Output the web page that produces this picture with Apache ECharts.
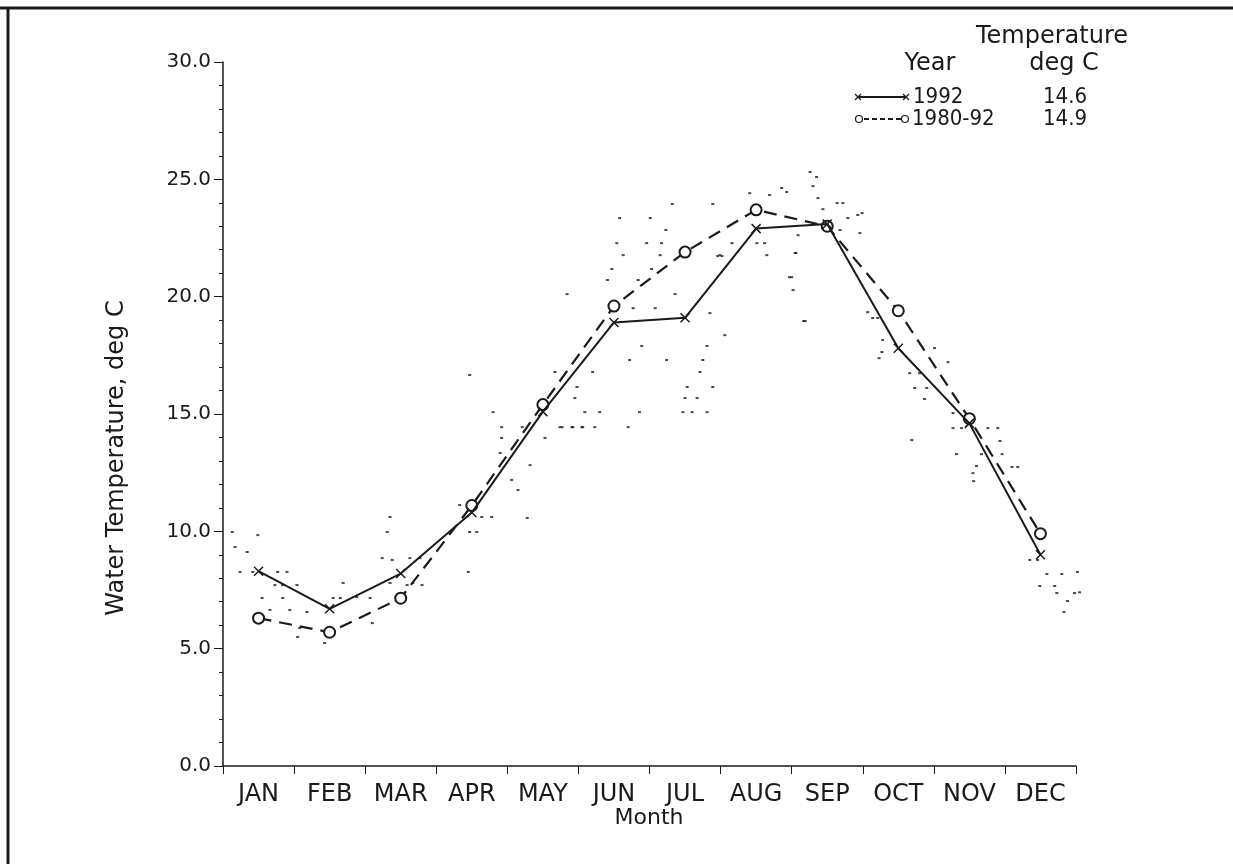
<!DOCTYPE html>
<html><head><meta charset="utf-8">
<script src="https://cdn.jsdelivr.net/npm/echarts@6/dist/echarts.min.js"></script>
<style>html,body{margin:0;padding:0;background:#fff}#c{width:1233px;height:864px}</style>
</head><body><div id="c"></div>
<script>
const months = ['JAN','FEB','MAR','APR','MAY','JUN','JUL','AUG','SEP','OCT','NOV','DEC'];
const yTicks = [0, 5, 10, 15, 20, 25, 30];
const temp1992 = [8.3, 6.7, 8.2, 10.8, 15.1, 18.9, 19.1, 22.9, 23.1, 17.8, 14.6, 9.0];
const tempAvg = [6.3, 5.7, 7.15, 11.1, 15.4, 19.6, 21.9, 23.7, 23.0, 19.4, 14.8, 9.9];
const legendNames = ['1992', '1980-92'];
const legendMeans = ['14.6', '14.9'];
const dotMonth = [0.24,0.42,0.77,0.90,0.73,0.84,1.04,0.55,0.84,0.66,0.94,1.18,1.08,1.05,1.43,1.69,1.88,2.07,1.55,1.65,2.10,2.35,2.59,2.67,2.80,3.45,
 0.13,0.49,0.17,0.34,2.35,2.31,2.24,2.38,2.63,2.77,3.47,3.33,3.47,3.57,3.64,3.78,4.28,4.15,4.06,3.92,3.92,4.21,3.80,4.74,4.91,5.06,5.23,4.67,4.98,4.95,4.32,4.53,3.90,
 6.32,6.89,6.01,5.58,6.23,5.54,5.96,6.17,5.63,6.15,6.99,5.47,6.03,5.41,5.84,4.84,6.36,5.77,6.08,6.85,7.06,5.89,6.81,5.72,6.24,6.75,6.71,6.53,6.89,6.50,6.67,
 5.09,5.30,5.86,6.47,6.60,6.81,4.77,4.92,5.05,5.70,5.20,7.41,7.69,7.86,7.93,8.30,7.97,8.02,8.05,8.19,7.62,7.51,7.65,8.99,8.79,8.64,8.72,8.68,
 8.26,8.35,8.37,8.44,8.93,8.96,8.09,8.06,8.00,8.17,7.16,6.96,7.02,
 9.07,9.14,9.21,9.28,9.27,9.23,10.01,10.20,9.66,9.80,9.73,9.90,9.87,9.69,10.27,10.27,10.39,10.76,10.90,10.93,10.96,10.32,10.67,10.60,10.56,10.55,11.10,11.18,
 11.35,11.46,11.59,11.80,11.49,11.70,11.73,11.98,11.88,11.83,12.02,12.05];
const dotTemp = [8.27,8.27,8.27,8.27,7.71,7.71,7.71,7.16,7.16,6.65,6.65,6.56,5.88,5.50,5.24,7.80,7.20,7.16,7.16,7.16,6.09,7.80,7.71,7.80,7.71,8.27,
 9.97,9.84,9.33,9.12,10.61,9.97,8.86,8.78,8.86,8.86,16.66,11.12,9.97,9.97,10.61,10.61,10.57,11.76,12.19,13.98,14.44,14.44,15.08,14.44,14.44,14.44,14.44,16.79,16.15,15.68,12.82,13.98,13.34,
 23.95,23.95,23.35,23.35,22.84,22.28,22.28,22.28,21.77,21.77,21.77,21.18,21.18,20.71,20.71,20.11,20.11,19.51,19.51,19.30,18.36,17.90,17.90,17.30,17.30,17.30,16.79,16.15,16.15,15.68,15.68,
 15.08,15.08,15.08,15.08,15.08,15.08,14.44,14.44,14.44,14.44,16.79,24.41,24.33,24.63,24.46,24.71,20.83,20.28,21.86,18.96,22.28,22.28,21.77,23.56,23.35,23.99,23.99,22.84,
 25.31,25.10,24.20,23.73,23.48,22.71,22.62,21.86,20.83,18.96,22.28,21.73,21.73,
 19.34,19.09,19.09,18.15,17.64,17.38,17.81,17.21,16.74,16.74,16.11,16.11,15.64,13.89,15.04,14.40,14.40,14.40,14.40,13.85,13.29,13.29,13.29,12.78,12.14,12.48,12.74,12.74,
 8.78,8.78,8.18,8.18,7.67,7.67,7.37,7.37,7.03,6.56,8.27,7.40];

const FONT = '"DejaVu Sans", sans-serif';
const NARROW = '"Liberation Sans Narrow", "DejaVu Sans Condensed", "DejaVu Sans", sans-serif';
const INK = '#1a1a1a';
const crossPath = 'path://M0,0L10,10M10,0L0,10';

const chart = echarts.init(document.getElementById('c'), null, {renderer: 'canvas'});
const GL = 223, GT = 62, GW = 853, GH = 704;

chart.setOption({
  backgroundColor: '#fff',
  animation: false,
  grid: {left: GL, top: GT, width: GW, height: GH, containLabel: false},
  xAxis: [{
    type: 'category', data: months, boundaryGap: true,
    axisLine: {lineStyle: {color: INK, width: 1.5}},
    axisTick: {show: true, length: 8, alignWithLabel: false, lineStyle: {color: INK, width: 1}},
    axisLabel: {margin: 17, fontFamily: FONT, fontSize: 24, color: INK, interval: 0},
    splitLine: {show: false}
  }, {
    type: 'value', min: 0, max: 12, show: false, gridIndex: 0
  }],
  yAxis: {
    type: 'value', min: yTicks[0], max: yTicks[yTicks.length - 1], interval: 5,
    axisLine: {show: true, lineStyle: {color: INK, width: 1.5}},
    axisTick: {show: true, length: 9, lineStyle: {color: INK, width: 1}},
    minorTick: {show: true, splitNumber: 5, length: 4, lineStyle: {color: INK, width: 1}},
    axisLabel: {margin: 12, fontFamily: FONT, fontSize: 20, color: INK, formatter: v => v.toFixed(1)},
    splitLine: {show: false}
  },
  series: [{
    name: 'obs', type: 'scatter', xAxisIndex: 1, clip: false,
    data: dotMonth.map((m, i) => [m, dotTemp[i]]),
    symbol: 'rect', symbolSize: [3, 2], itemStyle: {color: INK}, silent: true
  }, {
    name: legendNames[1], type: 'line', data: tempAvg,
    symbol: 'emptyCircle', symbolSize: 11, showSymbol: true, showAllSymbol: true,
    lineStyle: {color: INK, width: 2.2, type: [13, 8]},
    itemStyle: {color: INK, borderColor: INK, borderWidth: 1.5}, z: 3
  }, {
    name: legendNames[0], type: 'line', data: temp1992,
    symbol: crossPath, symbolSize: 9, showSymbol: true, showAllSymbol: true,
    lineStyle: {color: INK, width: 2},
    itemStyle: {color: 'none', borderColor: INK, borderWidth: 1.5}, z: 4
  }],
  graphic: [
    {type: 'line', shape: {x1: 0, y1: 8, x2: 1233, y2: 8}, style: {stroke: INK, lineWidth: 3}},
    {type: 'line', shape: {x1: 8, y1: 8, x2: 8, y2: 864}, style: {stroke: INK, lineWidth: 3}},
    {type: 'text', x: 117, y: 458, rotation: Math.PI / 2,
     style: {text: 'Water Temperature, deg C', font: '24px ' + FONT, fill: INK, align: 'center', verticalAlign: 'middle'}},
    {type: 'text', x: 649, y: 818,
     style: {text: 'Month', font: '22px ' + FONT, fill: INK, align: 'center', verticalAlign: 'middle'}},
    {type: 'text', x: 1052, y: 37,
     style: {text: 'Temperature', font: '24px ' + FONT, fill: INK, align: 'center', verticalAlign: 'middle'}},
    {type: 'text', x: 930, y: 64,
     style: {text: 'Year', font: '24px ' + FONT, fill: INK, align: 'center', verticalAlign: 'middle'}},
    {type: 'text', x: 1064, y: 64,
     style: {text: 'deg C', font: '24px ' + FONT, fill: INK, align: 'center', verticalAlign: 'middle'}},
    {type: 'line', shape: {x1: 858, y1: 97, x2: 906, y2: 97}, style: {stroke: INK, lineWidth: 2.2}},
    {type: 'polyline', shape: {points: [[855, 94], [861, 100]]}, style: {stroke: INK, lineWidth: 1.2, fill: null}},
    {type: 'polyline', shape: {points: [[855, 100], [861, 94]]}, style: {stroke: INK, lineWidth: 1.2, fill: null}},
    {type: 'polyline', shape: {points: [[903, 94], [909, 100]]}, style: {stroke: INK, lineWidth: 1.2, fill: null}},
    {type: 'polyline', shape: {points: [[903, 100], [909, 94]]}, style: {stroke: INK, lineWidth: 1.2, fill: null}},
    {type: 'text', x: 913, y: 97,
     style: {text: legendNames[0], font: '22px ' + NARROW, fill: INK, align: 'left', verticalAlign: 'middle'}},
    {type: 'text', x: 1043, y: 97,
     style: {text: legendMeans[0], font: '22px ' + NARROW, fill: INK, align: 'left', verticalAlign: 'middle'}},
    {type: 'circle', shape: {cx: 859, cy: 119, r: 3.5}, style: {stroke: INK, lineWidth: 1.2, fill: '#fff'}},
    {type: 'line', shape: {x1: 864, y1: 119, x2: 901, y2: 119}, style: {stroke: INK, lineWidth: 2, lineDash: [5, 3]}},
    {type: 'circle', shape: {cx: 905, cy: 119, r: 3.5}, style: {stroke: INK, lineWidth: 1.2, fill: '#fff'}},
    {type: 'text', x: 912, y: 119,
     style: {text: legendNames[1], font: '22px ' + NARROW, fill: INK, align: 'left', verticalAlign: 'middle'}},
    {type: 'text', x: 1043, y: 119,
     style: {text: legendMeans[1], font: '22px ' + NARROW, fill: INK, align: 'left', verticalAlign: 'middle'}}
  ]
});
</script>
</body></html>
